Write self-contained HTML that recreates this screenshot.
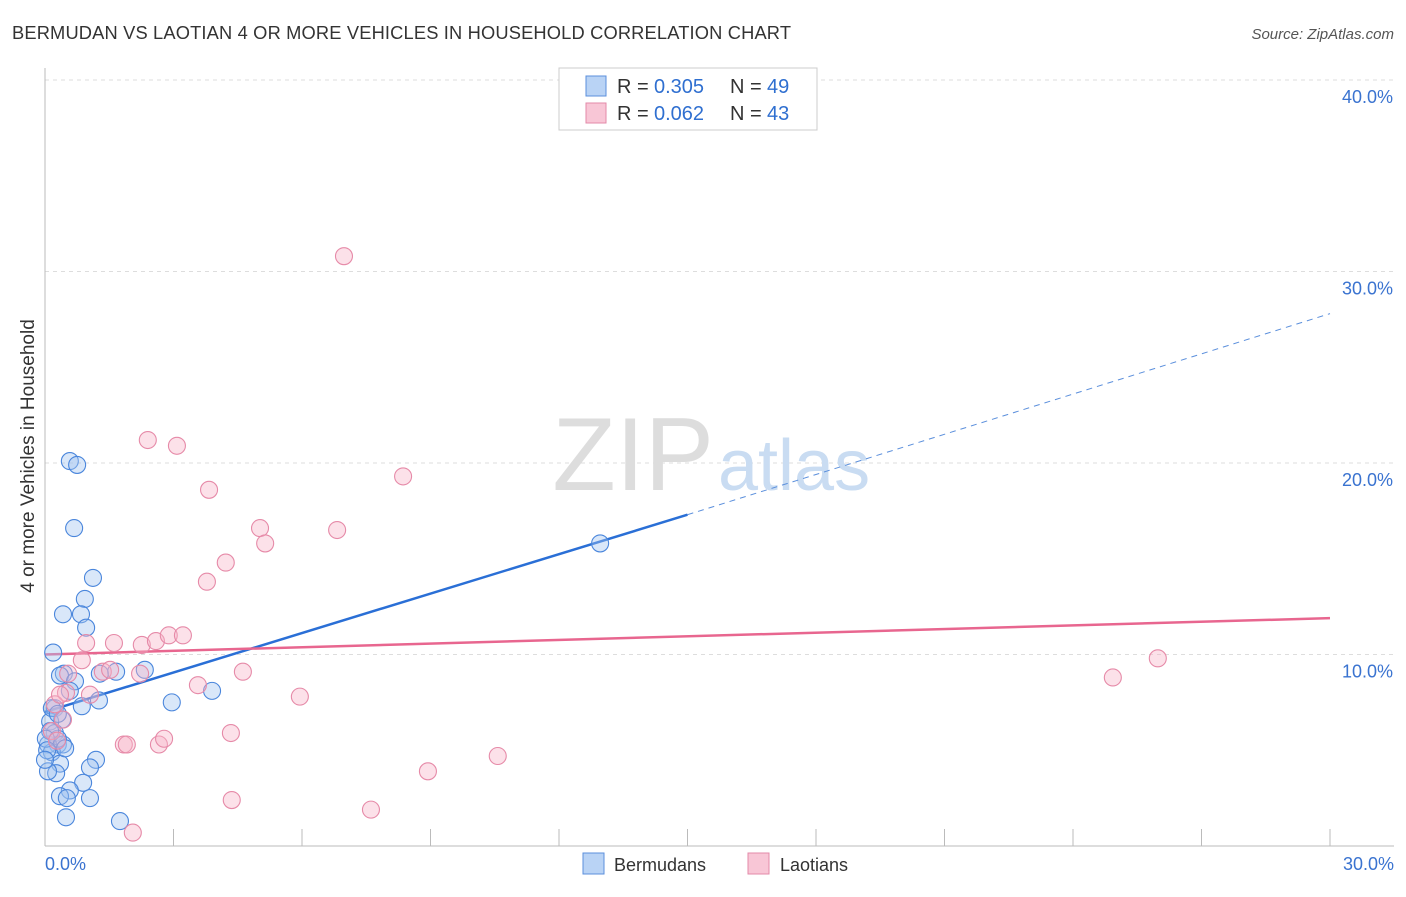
<!DOCTYPE html>
<html><head><meta charset="utf-8"><style>
body{margin:0;background:#fff;font-family:"Liberation Sans",sans-serif}
svg text{font-family:"Liberation Sans",sans-serif}
</style></head><body>
<svg id="chart" width="1406" height="892">
<text x="12" y="39" font-size="18.3" fill="#333" textLength="779">BERMUDAN VS LAOTIAN 4 OR MORE VEHICLES IN HOUSEHOLD CORRELATION CHART</text>
<text x="1394" y="39" font-size="15" fill="#555" text-anchor="end" font-style="italic">Source: ZipAtlas.com</text>
<g id="grid"></g>
<line x1="45" y1="68" x2="45" y2="846" stroke="#bbb"/>
<line x1="45" y1="846" x2="1394" y2="846" stroke="#bbb"/>
<text x="714" y="490" font-size="104" fill="#ddd" text-anchor="end" font-family="Liberation Serif">ZIP</text>
<text x="718" y="490" font-size="72" fill="#c9dcf2">atlas</text>
<text x="34" y="456" font-size="19" fill="#333" text-anchor="middle" transform="rotate(-90 34 456)">4 or more Vehicles in Household</text>
<text x="45" y="870" font-size="18" fill="#3a73d0">0.0%</text>
<text x="1394" y="870" font-size="18" fill="#3a73d0" text-anchor="end">30.0%</text>
<g id="lines"></g>
<g id="pts"></g>
<g>
<rect x="559" y="68" width="258" height="62" fill="#fff" stroke="#ccc"/>
<rect x="586" y="76" width="20" height="20" fill="#b9d3f5" stroke="#5b8fdc"/>
<rect x="586" y="103" width="20" height="20" fill="#f8c6d6" stroke="#e38aa8"/>
<text x="617" y="93" font-size="20" fill="#333">R =</text><text x="654" y="93" font-size="20" fill="#2f6fd0">0.305</text>
<text x="730" y="93" font-size="20" fill="#333">N =</text><text x="767" y="93" font-size="20" fill="#2f6fd0">49</text>
<text x="617" y="120" font-size="20" fill="#333">R =</text><text x="654" y="120" font-size="20" fill="#2f6fd0">0.062</text>
<text x="730" y="120" font-size="20" fill="#333">N =</text><text x="767" y="120" font-size="20" fill="#2f6fd0">43</text>
</g>
<g>
<rect x="583" y="853" width="21" height="21" fill="#b9d3f5" stroke="#5b8fdc"/>
<text x="614" y="871" font-size="18" fill="#333">Bermudans</text>
<rect x="748" y="853" width="21" height="21" fill="#f8c6d6" stroke="#e38aa8"/>
<text x="780" y="871" font-size="18" fill="#333">Laotians</text>
</g>
</svg>
<script>
const yTicks=[10,20,30,40];
const xTickVals=[3,6,9,12,15,18,21,24,27,30];
const blueX=[0.58,0.75,0.68,1.12,0.93,0.42,0.84,0.96,0.19,0.44,0.35,0.7,0.58,0.86,0.23,1.26,1.66,2.33,1.28,2.96,3.9,0.4,0.12,0.23,0.3,0.42,0.07,0.16,0.3,0.35,0.26,0.07,1.19,1.05,0.89,0.58,0.35,0.51,1.05,0.49,1.75,12.96,0.12,0.02,0.05,0.0,0.16,0.3,0.47];
const blueY=[20.1,19.9,16.6,14.0,12.9,12.1,12.1,11.4,10.1,9.0,8.9,8.6,8.1,7.3,7.2,7.6,9.1,9.2,9.0,7.5,8.1,6.6,6.5,5.9,5.3,5.3,5.3,4.9,5.6,4.3,3.8,3.9,4.5,4.1,3.3,2.9,2.6,2.5,2.5,1.5,1.3,15.8,6.0,5.6,5.0,4.5,7.2,6.9,5.1];
const pinkX=[6.98,2.4,3.08,3.83,8.36,5.02,6.82,5.14,4.22,3.78,0.86,1.61,2.26,2.59,2.89,3.22,0.96,0.49,1.05,1.35,1.52,2.22,4.62,3.57,5.95,4.34,1.84,1.91,2.66,2.78,4.36,8.94,10.57,7.61,2.05,24.93,25.98,0.23,0.35,0.16,0.28,0.54,0.42];
const pinkY=[30.8,21.2,20.9,18.6,19.3,16.6,16.5,15.8,14.8,13.8,9.7,10.6,10.5,10.7,11.0,11.0,10.6,8.0,7.9,9.1,9.2,9.0,9.1,8.4,7.8,5.9,5.3,5.3,5.3,5.6,2.4,3.9,4.7,1.9,0.7,8.8,9.8,7.4,7.9,6.0,5.5,9.0,6.6];
const blueTrend=[[0,7.0],[15,17.3]], blueDash=[[15,17.3],[30,27.8]];
const pinkTrend=[[0,10.0],[30,11.9]];
const X0=45,X1=1330,Y0=846,PX=191.5;
const sx=v=>X0+(X1-X0)*v/30, sy=v=>Y0-PX*v/10;
const NS='http://www.w3.org/2000/svg';
const mk=(t,a,p)=>{const e=document.createElementNS(NS,t);for(const k in a)e.setAttribute(k,a[k]);p.appendChild(e);return e;};
const grid=document.getElementById('grid');
yTicks.forEach(t=>{
 const l=mk('line',{x1:45,x2:1394,y1:sy(t),y2:sy(t),stroke:'#ddd','stroke-dasharray':'4,4'},grid);
 
 
 const tx=mk('text',{x:1393,y:sy(t)+23,'font-size':18,fill:'#3a73d0','text-anchor':'end'},grid);
 tx.textContent=t.toFixed(1)+'%';
 
 
});
xTickVals.forEach(t=>{
 const l=mk('line',{x1:sx(t),x2:sx(t),y1:829,y2:846,stroke:'#bbb'},grid);
 
 
});
const pts=document.getElementById('pts');
blueX.forEach((x,i)=>{
 const c=mk('circle',{cx:sx(x),cy:sy(blueY[i]),r:8.5,fill:'rgba(160,195,240,0.4)',stroke:'#4a86dc','stroke-width':1.1},pts);
 
 
});
pinkX.forEach((x,i)=>{
 const c=mk('circle',{cx:sx(x),cy:sy(pinkY[i]),r:8.5,fill:'rgba(248,180,200,0.4)',stroke:'#e68aa8','stroke-width':1.1},pts);
 
 
});
const lines=document.getElementById('lines');
const ln=(p,st,dash,name)=>{const l=mk('line',{x1:sx(p[0][0]),y1:sy(p[0][1]),x2:sx(p[1][0]),y2:sy(p[1][1]),stroke:st,'stroke-width':dash?1:2.5},lines);if(dash)l.setAttribute('stroke-dasharray','6,5');
 
 };
ln(blueTrend,'#2a6fd6',false,'bermudan-trendline');
ln(blueDash,'#5b8fdc',true,'bermudan-trend-extension');
ln(pinkTrend,'#e8668f',false,'laotian-trendline');
</script>
</body></html>
